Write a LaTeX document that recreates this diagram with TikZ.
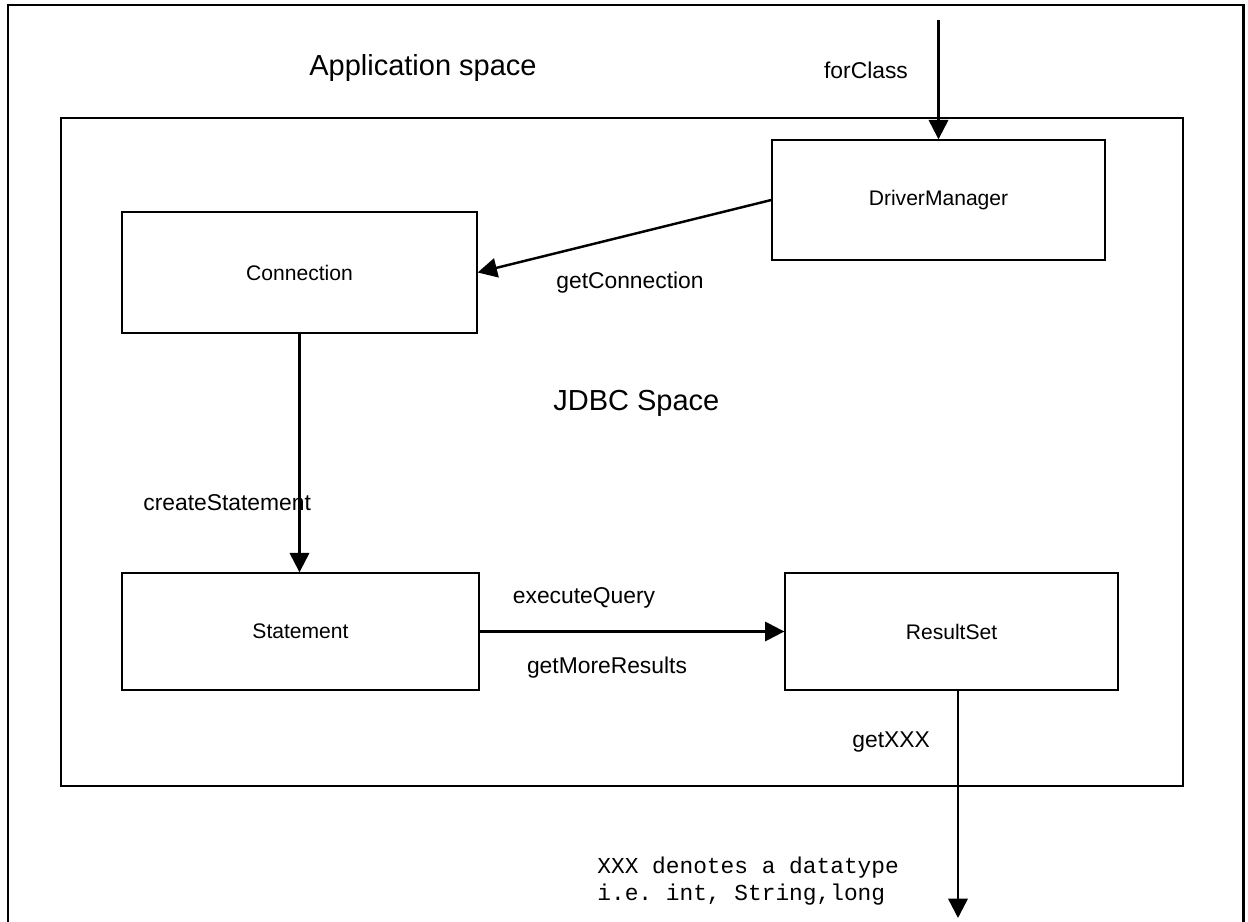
\documentclass[tikz,border=0pt]{standalone}
\usepackage{fontspec}
\setmainfont{Liberation Sans}
\setmonofont{Liberation Mono}
\usetikzlibrary{positioning, arrows.meta}

\begin{document}
\begin{tikzpicture}[x=0.02cm, y=-0.02cm,
	every block/.style={draw, line width=0.8pt, inner sep=0pt,
		font=\fontsize{12}{14}\selectfont},
	every call/.style={font=\fontsize{13}{15}\selectfont, inner sep=0pt},
	every space/.style={font=\fontsize{16.5}{19}\selectfont, inner sep=0pt},
	every flow/.style={-{Triangle[length=11pt,width=11pt]}, line width=1.4pt}]
		\useasboundingbox (0,0) rectangle (1248,922);
		% the two spaces
		\draw [line width=1.7pt] (8,922) -- (8,5) -- (1243,5) -- (1243,922);
		\draw [line width=1.1pt] (61,118) rectangle (1183,786);
		\node [every space/.try, anchor=west] (app) at (309,68) {Application space};
		\node [every space/.try, anchor=west] (jdbc) at (553,403) {JDBC Space};
		% the objects
		\node [every block/.try, minimum width=6.66cm, minimum height=2.4cm] (dm) at (938.5,200) {DriverManager};
		\node [every block/.try, minimum width=7.1cm, minimum height=2.42cm] (conn) at (299.5,272.5) {Connection};
		\node [every block/.try, minimum width=7.14cm, minimum height=2.34cm] (stmt) at (300.5,631.5) {Statement};
		\node [every block/.try, minimum width=6.66cm, minimum height=2.34cm] (rs) at (951.5,631.5) {ResultSet};
		\coordinate (src) at (938.5,20);
		\coordinate (out) at (958,918);
		% the calls
		\draw [every flow/.try] (src) -- (dm.north);
		\draw [every flow/.try] (dm.west) -- (conn.east);
		\draw [every flow/.try] (conn.south) -- (conn.south |- stmt.north);
		\draw [every flow/.try] (stmt.east) -- (rs.west);
		\draw [every flow/.try] (out |- rs.south) -- (out);
		\node [every call/.try] (forclass) at (866,70) {forClass};
		\node [every call/.try] (getconn) at (630,283) {getConnection};
		\node [every call/.try, anchor=west] (create) at (143,503) {createStatement};
		\node [every call/.try] (exec) at (584,598) {executeQuery};
		\node [every call/.try] (more) at (607,668) {getMoreResults};
		\node [every call/.try, anchor=west] (getx) at (852,742) {getXXX};
		\node [font=\fontsize{13}{15.3}\ttfamily, align=left, anchor=west, inner sep=0pt] (note) at (597,881)
			{XXX denotes a datatype\\i.e. int, String,long};
	\end{tikzpicture}
\end{document}
